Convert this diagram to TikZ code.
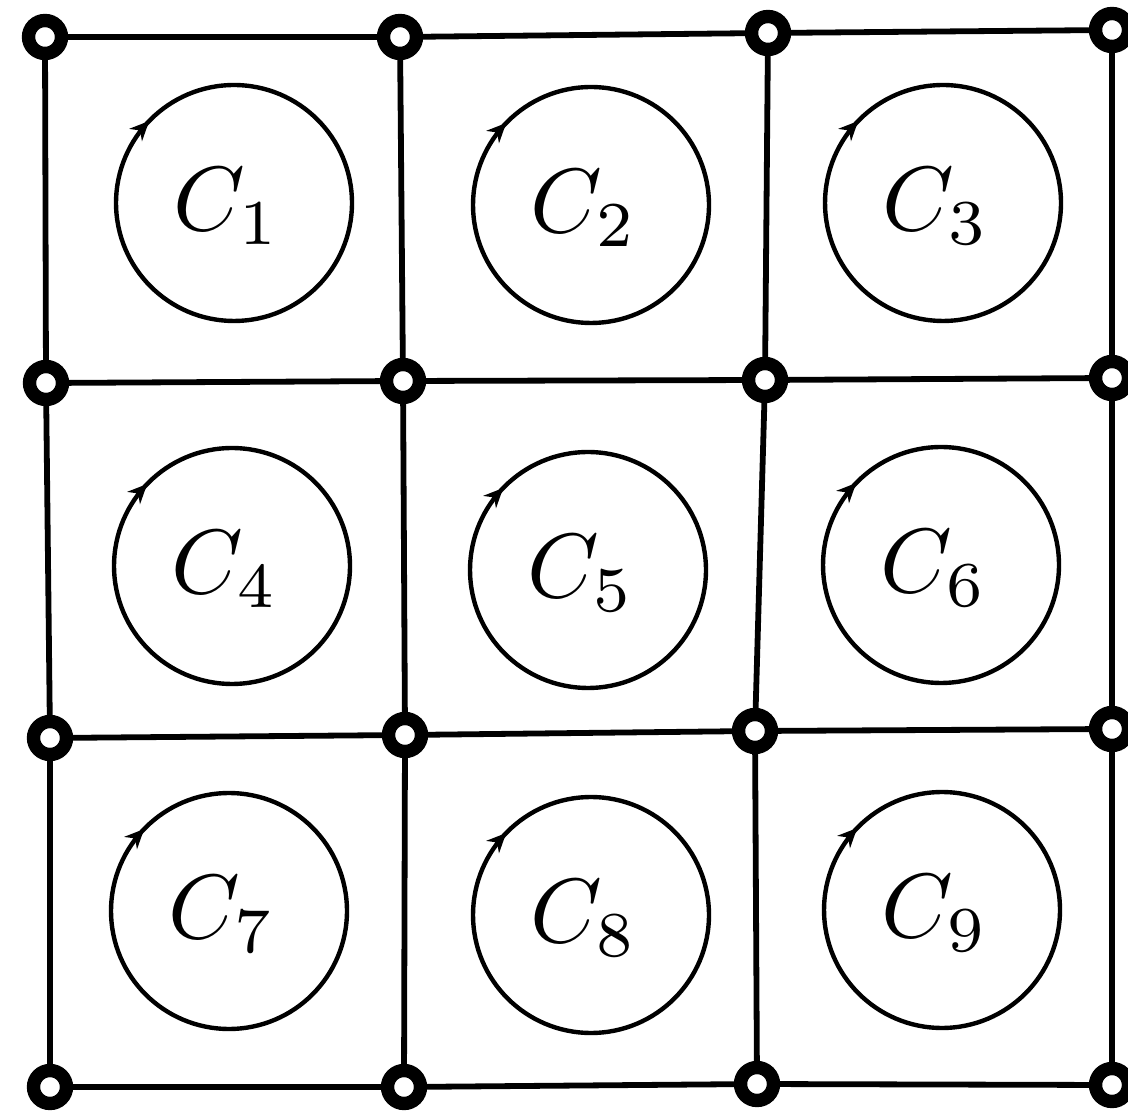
\documentclass[tikz,border=0pt]{standalone}
\usetikzlibrary{arrows.meta}
\begin{document}
\begin{tikzpicture}[x=0.02cm,y=0.02cm,
  vtx/.style={circle,draw,line width=7.6pt,minimum size=0.66cm,inner sep=0pt,fill=white},
  wire/.style={line width=3.3pt},
  loop/.style={circle,draw,line width=2.5pt,minimum size=4.72cm,inner sep=0pt},
  lab/.style={scale=5.2,inner sep=0pt},
  tip/.style={line width=2.5pt,-{Stealth[length=11pt,width=10pt]}}]
\useasboundingbox (0,0) rectangle (1128,1119);
% edges (drawn first, vertices on top)
\coordinate (p00) at (45,1082);
\coordinate (p01) at (400,1082);
\coordinate (p02) at (768,1086);
\coordinate (p03) at (1112,1089);
\coordinate (p10) at (46,736);
\coordinate (p11) at (403,738);
\coordinate (p12) at (765,739);
\coordinate (p13) at (1112,741);
\coordinate (p20) at (50,381);
\coordinate (p21) at (405,384);
\coordinate (p22) at (755,388);
\coordinate (p23) at (1112,390);
\coordinate (p30) at (50,32);
\coordinate (p31) at (404,32);
\coordinate (p32) at (757,35);
\coordinate (p33) at (1112,34);
\foreach \r in {0,1,2,3}{
  \draw[wire] (p\r0) -- (p\r1);
  \draw[wire] (p\r1) -- (p\r2);
  \draw[wire] (p\r2) -- (p\r3);
}
\foreach \c in {0,1,2,3}{
  \draw[wire] (p0\c) -- (p1\c);
  \draw[wire] (p1\c) -- (p2\c);
  \draw[wire] (p2\c) -- (p3\c);
}
% vertices
\foreach \r in {0,1,2,3}{
  \foreach \c in {0,1,2,3}{
    \node[vtx] (n\r\c) at (p\r\c) {};
  }
}
% loops
\node[loop] (c1) at (234,916) {};
\node[loop] (c2) at (591,914) {};
\node[loop] (c3) at (943,916) {};
\node[loop] (c4) at (232,553) {};
\node[loop] (c5) at (588,549) {};
\node[loop] (c6) at (941,554) {};
\node[loop] (c7) at (229,208) {};
\node[loop] (c8) at (591,204) {};
\node[loop] (c9) at (942,209) {};
\foreach \k in {1,...,9}{
  \node[lab] (l\k) at ([xshift=-4pt,yshift=-2pt]c\k.center) {$C_{\k}$};
  \draw[tip] (c\k.center) ++(143:2.36cm) arc[start angle=143,end angle=136,radius=2.36cm];
}
\end{tikzpicture}
\end{document}
